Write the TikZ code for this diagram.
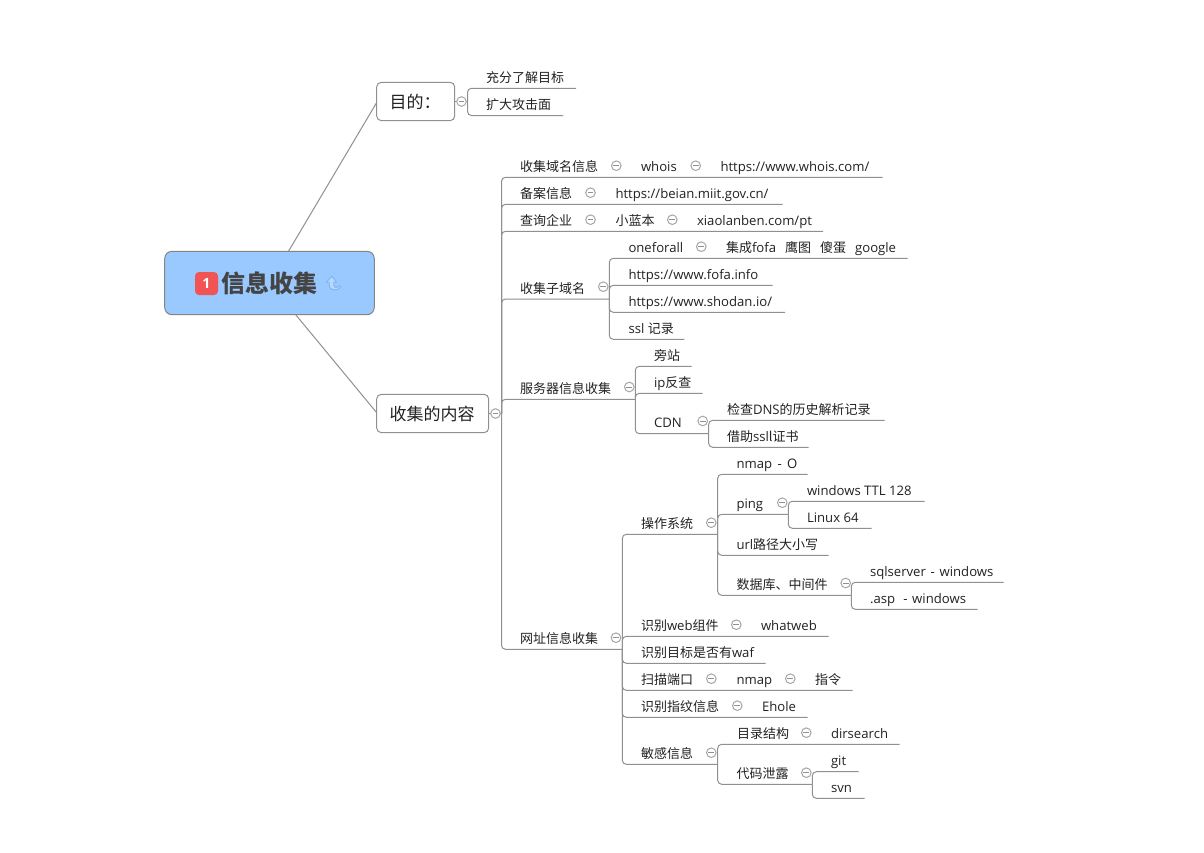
\documentclass[tikz,border=0pt]{standalone}
\usepackage{fontspec}
\setmainfont[Scale=1.01]{Open Sans}
\newfontfamily\cjk{Noto Sans CJK SC}
\definecolor{linegrey}{HTML}{909090}
\definecolor{txtc}{HTML}{222222}
\definecolor{rootblue}{HTML}{99C9FF}
\definecolor{rootedge}{HTML}{858585}
\definecolor{badge}{HTML}{F05454}
\definecolor{rootc}{HTML}{444444}
\definecolor{iconblue}{HTML}{7DB0F0}
\definecolor{iconfill}{HTML}{B8D8FF}
\newcommand\C[1]{{\cjk #1}}
\newcommand\gapp{\hspace{6.75pt}}
\tikzset{
  x=0.75pt,y=-0.75pt,
  linkline/.style={draw=linegrey,line width=0.75pt,rounded corners=3pt},
  thinline/.style={draw=linegrey,line width=0.75pt},
  txt/.style={anchor=base west,inner sep=0pt,outer sep=0pt,text=txtc,font=\fontsize{9.75}{12}\selectfont},
  bigtxt/.style={anchor=base west,inner sep=0pt,outer sep=0pt,text=txtc,font=\fontsize{12.75}{14}\selectfont},
  colb/.style={circle,draw=linegrey!80,line width=0.75pt,fill=white,minimum size=7.2pt,inner sep=0pt},
  boxb/.style={draw=linegrey,line width=0.75pt,fill=white,rounded corners=3.5pt},
}
% name, y of underline, x end, x text, text
\newcommand\tp[5]{%
  \node[txt] (#1) at (#4,#2-6) {#5};
  \coordinate (#1-r) at (#3,#2);
}
\newcommand\lk[2]{\draw[linkline] (#1-r) |- (#2-r);}
\newcommand\col[3]{%
  \node[colb] (#1) at (#2,#3) {};
  \draw[draw=linegrey,line width=0.6pt] ([xshift=-2.2pt]#1.center) -- ([xshift=2.2pt]#1.center);
}
\begin{document}
\begin{tikzpicture}
\useasboundingbox (0,0) rectangle (1204,853);
\fill[white] (0,0) rectangle (1204,853);

% root and main boxes
\path[boxb] (376.7,82.3) rectangle (454.7,120.7);
\coordinate (goalW) at (376.7,102.5);
\coordinate (goalE) at (454.7,101.5);
\node[bigtxt,anchor=west] (goal) at (389.5,102) {\C{目的：}};
\path[boxb] (376.7,394.3) rectangle (488.7,432.7);
\coordinate (contW) at (376.7,412.7);
\coordinate (contE) at (488.7,413.5);
\node[bigtxt,anchor=west] (cont) at (389.5,413.5) {\C{收集的内容}};
\path[draw=rootedge,line width=0.75pt,fill=rootblue,rounded corners=5.5pt] (164.7,251.3) rectangle (374.3,314.7);
\coordinate (rootT) at (288.5,251.3);
\coordinate (rootB) at (295.7,314.7);
\draw[thinline] (rootT) -- (goalW);
\draw[thinline] (rootB) -- (contW);
\node[fill=badge,rounded corners=3pt,minimum width=17.25pt,minimum height=17.25pt,inner sep=0pt,text=white,font=\fontsize{10.5}{12}\selectfont\bfseries] (badge1) at (206.5,283.5) {1};
\node[anchor=west,inner sep=0pt,text=rootc,font=\fontsize{18}{20}\selectfont\bfseries] (rootn) at (221.5,283.5) {\C{信息收集}};
% small revisit icon
\draw[iconblue,fill=iconfill,line width=0.6pt,line join=round] (331.7,276.2) -- (336.6,282.2) -- (333.8,282.2) -- (333.8,285) .. controls (334,288) and (337.5,288.2) .. (339.6,285.6) -- (341,286.4) .. controls (339,291) and (329.2,292) .. (329.2,284.5) -- (329.2,282.2) -- (326.6,282.2) -- cycle;

% goal branch
\coordinate (goalT) at (467.5,101.5);
\tp{g1}{88.3}{576}{486}{\C{充分了解目标}}
\tp{g2}{115.5}{563}{486}{\C{扩大攻击面}}
\draw[thinline] (goalE) -- (goalT);
\col{cg}{461.5}{101.5}
\coordinate (goalT-r) at (goalT);
\lk{goalT}{g1}
\lk{goalT}{g2}

% content branch
\coordinate (contT-r) at (501.5,413.5);
\draw[thinline] (contE) -- (contT-r);
\col{cc}{495.5}{413.5}

\tp{a1}{177.3}{882.7}{520}{\C{收集域名信息}}
\node[txt] (a1b) at (641,171.3) {whois};
\node[txt] (a1c) at (720.5,171.3) {https://www.whois.com/};
\col{ca1}{616.3}{165.7}
\col{ca1b}{695.7}{165.7}

\tp{a2}{204.3}{782.7}{520}{\C{备案信息}}
\node[txt] (a2b) at (615.5,198.3) {https://beian.miit.gov.cn/};
\col{ca2}{590.5}{192.7}

\tp{a3}{231.3}{823}{520}{\C{查询企业}}
\node[txt] (a3b) at (615.5,225.3) {\C{小蓝本}};
\node[txt] (a3c) at (697,225.3) {xiaolanben.com/pt};
\col{ca3}{590.5}{219.7}
\col{ca3b}{672.3}{219.7}

\tp{a4}{299}{609.3}{520}{\C{收集子域名}}
\col{ca4}{603.3}{286.7}
\tp{b1}{258.3}{907.7}{628.5}{oneforall}
\node[txt] (b1b) at (726,252.3) {\C{集成}fofa\gapp\C{鹰图}\gapp\C{傻蛋}\gapp google};
\col{cb1}{701.3}{246.7}
\tp{b2}{285.3}{772.7}{628.5}{https://www.fofa.info}
\tp{b3}{312.3}{785}{628.5}{https://www.shodan.io/}
\tp{b4}{339.3}{684.3}{628.5}{ssl \C{记录}}

\tp{a5}{399.3}{635.3}{520}{\C{服务器信息收集}}
\col{ca5}{629.3}{387}
\tp{d1}{366.3}{691.7}{654}{\C{旁站}}
\tp{d2}{393.3}{702.7}{654}{ip\C{反查}}
\tp{d3}{433.7}{708.7}{654}{CDN}
\col{cd3}{702.7}{421}
\tp{e1}{420.3}{884.7}{727}{\C{检查}DNS\C{的历史解析记录}}
\tp{e2}{447.3}{808.7}{727}{\C{借助}ssl\C{l证书}}

\tp{a6}{649.3}{622.3}{520}{\C{网址信息收集}}
\col{ca6}{616}{637.7}

\tp{f1}{534.3}{717.7}{641}{\C{操作系统}}
\col{cf1}{711.3}{522.7}
\tp{h1}{474.3}{807.7}{736.5}{nmap\kern1.5pt\ -\ \kern1.5pt O}
\tp{h2}{514.3}{788.3}{736.5}{ping}
\col{ch2}{782.3}{502.7}
\tp{i1}{501.3}{924.7}{807}{windows TTL 128}
\tp{i2}{528.3}{871.7}{807}{Linux 64}
\tp{h3}{555.3}{828.7}{736.5}{url\C{路径大小写}}
\tp{h4}{595.3}{851.3}{736.5}{\C{数据库、中间件}}
\col{ch4}{845.7}{583}
\tp{j1}{582.3}{1003.7}{870}{sqlserver\kern1pt\ -\ \kern1pt windows}
\tp{j2}{609.3}{977.7}{870}{.asp\ \ \kern1pt-\ \kern1pt windows}

\tp{f2}{636.3}{828.7}{641}{\C{识别}web\C{组件}}
\node[txt] (f2b) at (761,630.3) {whatweb};
\col{cf2}{736.3}{624.7}
\tp{f3}{663.3}{765.7}{641}{\C{识别目标是否有}waf}
\tp{f4}{690.3}{852.7}{641}{\C{扫描端口}}
\node[txt] (f4b) at (736.5,684.3) {nmap};
\node[txt] (f4c) at (815,684.3) {\C{指令}};
\col{cf4}{711.3}{678.7}
\col{cf4b}{790.3}{678.7}
\tp{f5}{717.3}{807.7}{641}{\C{识别指纹信息}}
\node[txt] (f5b) at (762,711.3) {Ehole};
\col{cf5}{737.3}{705.7}
\tp{f6}{764.3}{717.7}{641}{\C{敏感信息}}
\col{cf6}{711.3}{752.7}
\tp{k1}{744.3}{899.7}{737}{\C{目录结构}}
\node[txt] (k1b) at (831,738.3) {dirsearch};
\col{ck1}{806.3}{732.7}
\tp{k2}{784.3}{812.3}{736.5}{\C{代码泄露}}
\col{ck2}{806.3}{772.7}
\tp{m1}{771.7}{858.7}{831}{git}
\tp{m2}{798.3}{864.7}{831}{svn}

\foreach \c in {a1,a2,a3,a4,a5,a6}{\lk{contT}{\c}}
\foreach \c in {b1,b2,b3,b4}{\lk{a4}{\c}}
\foreach \c in {d1,d2,d3}{\lk{a5}{\c}}
\foreach \c in {e1,e2}{\lk{d3}{\c}}
\foreach \c in {f1,f2,f3,f4,f5,f6}{\lk{a6}{\c}}
\foreach \c in {h1,h2,h3,h4}{\lk{f1}{\c}}
\foreach \c in {i1,i2}{\lk{h2}{\c}}
\foreach \c in {j1,j2}{\lk{h4}{\c}}
\foreach \c in {k1,k2}{\lk{f6}{\c}}
\foreach \c in {m1,m2}{\lk{k2}{\c}}
\end{tikzpicture}
\end{document}
